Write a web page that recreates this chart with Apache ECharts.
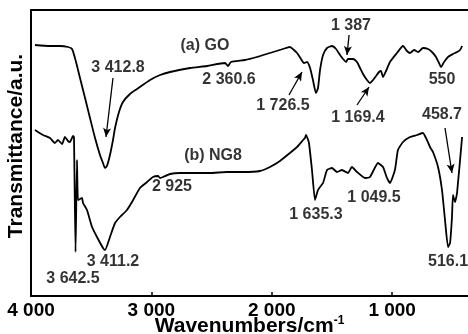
<!DOCTYPE html>
<html>
<head>
<meta charset="utf-8">
<script src="https://cdn.jsdelivr.net/npm/echarts@6/dist/echarts.min.js"></script>
<style>html,body{margin:0;padding:0;background:#fff}#c{width:468px;height:334px}</style>
</head>
<body>
<div id="c"></div>
<script>
// ---- data (wavenumber cm^-1, transmittance a.u.) ----
const goWn = [3967,3842,3759,3693,3659,3626,3593,3551,3510,3468,3427,3402,3385,3369,3344,3319,3302,3269,3236,3178,3119,3011,2928,2845,2679,2538,2388,2364,2339,2222,2123,2015,1907,1849,1816,1790,1757,1732,1707,1682,1658,1633,1616,1599,1574,1541,1500,1466,1433,1408,1383,1367,1325,1292,1267,1242,1209,1184,1159,1134,1109,1093,1076,1051,1018,960,910,877,852,818,785,744,702,669,636,611,594,569,536,495,461,436,419];
const goT  = [251,250,250,249,247,234,218,198,178,158,141,133,128,130,141,156,168,184,194,202,207,216,221,224,228,230,233,230,234,236,239,243,247,249,246,243,237,233,234,228,216,203,208,226,241,248,250,247,241,237,234,237,237,234,228,222,216,213,216,220,224,225,219,225,234,243,250,245,243,246,244,248,247,244,239,233,229,234,239,242,244,246,250];
const ngWn = [3967,3900,3842,3801,3776,3742,3718,3693,3676,3651,3643,3630,3618,3610,3593,3576,3568,3535,3493,3452,3402,3385,3344,3302,3261,3203,3161,3095,3036,2987,2945,2928,2903,2845,2762,2654,2513,2372,2239,2098,2015,1932,1849,1790,1740,1724,1716,1707,1691,1666,1641,1616,1599,1574,1541,1500,1458,1417,1367,1334,1292,1226,1184,1118,1076,1043,1018,977,952,910,852,794,744,711,686,661,619,586,561,536,519,503,495,478,461,419];
const ngT  = [166,161,158,153,156,152,159,155,154,160,159,44,136,96,97,98,93,86,69,59,48,46,59,73,79,86,94,108,114,119,120,118,119,122,123,123,123,124,124,125,129,135,143,149,156,158,161,159,153,126,96,106,109,113,126,128,124,126,123,129,124,118,119,133,129,118,113,126,146,154,159,161,163,156,149,144,129,106,76,49,53,79,101,94,103,159];

const xTicks = [1000, 2000, 3000, 4000];

const noteText = ['(a) GO','3 412.8','2 360.6','1 726.5','1 387','1 169.4','550','458.7','(b) NG8','2 925','3 411.2','3 642.5','1 635.3','1 049.5','516.1'];
const noteWn   = [2555,3277,2355,1907,1342,1284,586,586,2488,2829,3319,3651,1633,1151,536];
const noteT    = [250,228,216,190,270,178,216,181,140,109,34,17,81,98,34];

const arrowFrom = [[3319,218],[1857,201],[1358,261],[1292,191],[561,168]];
const arrowTo   = [[3377,159],[1749,224],[1375,241],[1192,209],[503,123]];

const FONT = '"Liberation Sans", Arial, Helvetica, sans-serif';
const fmt = v => { const s = String(Math.round(v)); return s.length > 3 ? s.slice(0, s.length - 3) + ' ' + s.slice(-3) : s; };

const chart = echarts.init(document.getElementById('c'), null, {renderer: 'canvas'});
chart.setOption({
  animation: false,
  backgroundColor: '#fff',
  grid: {left: 31, right: 0, top: 10, bottom: 38, outerBoundsMode: 'none', containLabel: false},
  xAxis: [{
    type: 'value', inverse: true, min: 370, max: 4000,
    name: 'Wavenumbers/cm{sup|-1}', nameLocation: 'middle', nameGap: 19, nameMoveOverlap: false,
    nameTextStyle: {fontFamily: FONT, fontWeight: 'bold', fontSize: 21, color: '#000',
      rich: {sup: {fontFamily: FONT, fontWeight: 'bold', fontSize: 12, color: '#000', verticalAlign: 'top', padding: [0,0,10,0]}}},
    axisLine: {show: true, lineStyle: {color: '#000', width: 2}},
    axisTick: {show: true, inside: true, length: 4, lineStyle: {color: '#000', width: 1.5}, customValues: xTicks},
    axisLabel: {fontFamily: FONT, fontWeight: 'bold', fontSize: 19, color: '#000', margin: 5, customValues: xTicks, formatter: fmt, showMinLabel: true, showMaxLabel: true},
    splitLine: {show: false}
  }, {
    type: 'value', inverse: true, min: 370, max: 4000, position: 'top',
    axisLine: {show: true, lineStyle: {color: '#000', width: 2}},
    axisTick: {show: false}, axisLabel: {show: false}, splitLine: {show: false}
  }],
  yAxis: {
    type: 'value', min: 0, max: 286,
    name: 'Transmittance/a.u.', nameLocation: 'middle', nameGap: 4, nameMoveOverlap: false,
    nameTextStyle: {fontFamily: FONT, fontWeight: 'bold', fontSize: 21, color: '#000', padding: [0, 0, 0, 14]},
    axisLine: {show: true, lineStyle: {color: '#000', width: 2}},
    axisTick: {show: false}, axisLabel: {show: false}, splitLine: {show: false}
  },
  series: [
    {type: 'line', name: 'GO', data: goWn.map((w, i) => [w, goT[i]]), symbol: 'none',
     lineStyle: {color: '#000', width: 1.8}, smooth: 0.2},
    {type: 'line', name: 'NG8', data: ngWn.map((w, i) => [w, ngT[i]]), symbol: 'none',
     lineStyle: {color: '#000', width: 1.8}, smooth: 0.15},
    {type: 'scatter', name: 'notes', symbolSize: 1, itemStyle: {color: 'rgba(0,0,0,0)'},
     data: noteText.map((t, i) => ({name: t, value: [noteWn[i], noteT[i]]})),
     label: {show: true, position: 'inside', formatter: p => p.name,
       fontFamily: FONT, fontWeight: 'bold', fontSize: 16, color: '#000'},
     silent: true, z: 5},
    {type: 'line', name: 'arrows', data: [], symbol: 'none',
     markLine: {silent: true, symbol: ['none', 'arrow'], symbolSize: [6, 9],
       lineStyle: {color: '#000', width: 1.3, type: 'solid'}, label: {show: false},
       data: arrowFrom.map((a, i) => [{coord: a}, {coord: arrowTo[i]}])}}
  ]
});
</script>
</body>
</html>
